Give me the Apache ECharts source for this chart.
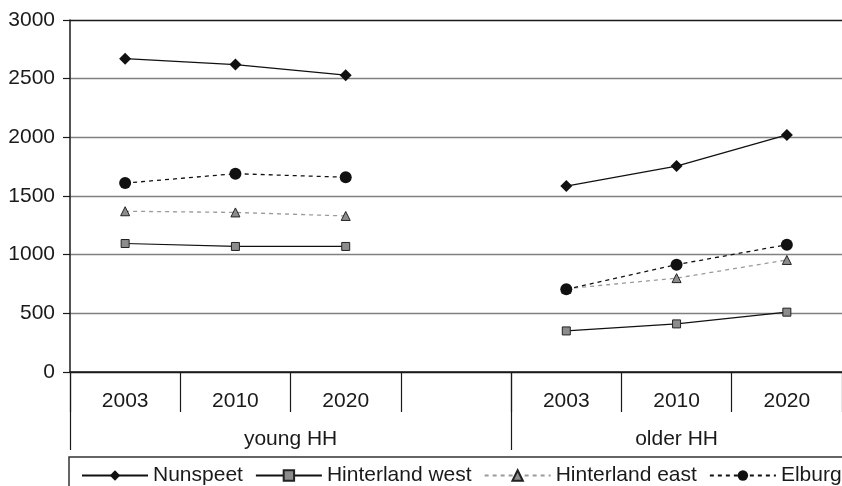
<!DOCTYPE html>
<html>
<head>
<meta charset="utf-8">
<script src="https://cdn.jsdelivr.net/npm/echarts@6/dist/echarts.min.js"></script>
<style>
html,body{margin:0;padding:0;background:#fff;}
#chart{width:842px;height:486px;}
</style>
</head>
<body>
<div id="chart"></div>
<script>
// ---- data ----
const categories = ['2003', '2010', '2020', '', '2003', '2010', '2020'];
const groups = ['young HH', 'older HH'];
const groupCenters = [2, 5.5];      // position of group label along category span (0..7)
const groupBoundaries = [0, 4];     // where group separators sit
const nunspeet = [2670, 2620, 2530, null, 1585, 1755, 2020];
const hinterlandWest = [1095, 1070, 1070, null, 350, 410, 510];
const hinterlandEast = [1370, 1360, 1330, null, 710, 800, 955];
const elburg = [1610, 1690, 1660, null, 705, 915, 1085];
const seriesNames = ['Nunspeet', 'Hinterland west', 'Hinterland east', 'Elburg'];

const FONT = 'Liberation Sans';
const FS = 21;
const chart = echarts.init(document.getElementById('chart'));
chart.setOption({
  animation: false,
  textStyle: { fontFamily: FONT },
  grid: { left: 70, right: 0, top: 20, bottom: 114, containLabel: false },
  legend: {
    left: 69, top: 457, width: 790,
    padding: [8, 2, 30, 12],
    borderColor: '#333', borderWidth: 1.5, borderRadius: 0,
    itemWidth: 66, itemHeight: 13, itemGap: 12,
    textStyle: { fontFamily: FONT, fontSize: FS, color: '#1a1a1a' },
    data: seriesNames
  },
  xAxis: [
    {
      type: 'category', data: categories, boundaryGap: true,
      axisLine: { lineStyle: { color: '#1a1a1a', width: 1.5 } },
      axisTick: { show: true, interval: 0, length: 40, lineStyle: { color: '#1a1a1a', width: 1.2 } },
      axisLabel: { interval: 0, margin: 19, fontSize: FS, color: '#1a1a1a', fontFamily: FONT },
      splitLine: { show: false }
    },
    {
      type: 'value', min: 0, max: 7, position: 'bottom',
      axisLine: { show: false },
      splitLine: { show: false },
      axisTick: { show: true, customValues: groupBoundaries, length: 78, lineStyle: { color: '#1a1a1a', width: 1.2 } },
      axisLabel: {
        customValues: groupCenters, margin: 57, fontSize: FS, color: '#1a1a1a', fontFamily: FONT,
        formatter: v => groups[groupCenters.indexOf(v)] || ''
      }
    }
  ],
  yAxis: {
    type: 'value', min: 0, max: 3000, interval: 500,
    axisLine: { show: true, lineStyle: { color: '#1a1a1a', width: 1.5 } },
    axisTick: { show: true, length: 7, lineStyle: { color: '#1a1a1a', width: 1.2 } },
    axisLabel: { margin: 15, fontSize: FS, color: '#1a1a1a', fontFamily: FONT, formatter: v => String(v) },
    splitLine: { show: true, lineStyle: { color: ['#1a1a1a', '#808080', '#808080', '#808080', '#808080', '#808080', '#1a1a1a'], width: 1.3 } }
  },
  series: [
    {
      name: 'Nunspeet', type: 'line', data: nunspeet, xAxisIndex: 0,
      symbol: 'diamond', symbolSize: 12, connectNulls: false,
      lineStyle: { color: '#111', width: 1.3 },
      itemStyle: { color: '#111' }, z: 3
    },
    {
      name: 'Hinterland west', type: 'line', data: hinterlandWest, xAxisIndex: 0,
      symbol: 'rect', symbolSize: 8,
      lineStyle: { color: '#111', width: 1.2 },
      itemStyle: { color: '#8c8c8c', borderColor: '#222', borderWidth: 1 }, z: 3
    },
    {
      name: 'Hinterland east', type: 'line', data: hinterlandEast, xAxisIndex: 0,
      symbol: 'triangle', symbolSize: 9,
      lineStyle: { color: '#9a9a9a', width: 1.3, type: [4, 4] },
      itemStyle: { color: '#8c8c8c', borderColor: '#222', borderWidth: 1 }, z: 3
    },
    {
      name: 'Elburg', type: 'line', data: elburg, xAxisIndex: 0,
      symbol: 'circle', symbolSize: 12,
      lineStyle: { color: '#111', width: 1.3, type: [4, 4] },
      itemStyle: { color: '#111' }, z: 4
    }
  ]
});
</script>
</body>
</html>
